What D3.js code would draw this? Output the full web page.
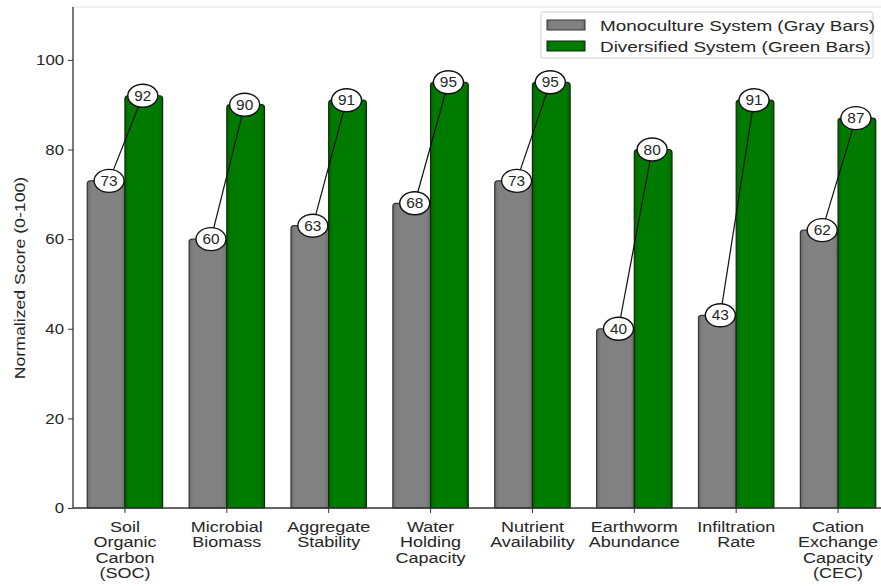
<!DOCTYPE html>
<html>
<head>
<meta charset="utf-8">
<script src="https://cdn.jsdelivr.net/npm/d3@7"></script>
<style>
  html, body { margin: 0; padding: 0; background: #fff; }
  svg { display: block; font-family: "Liberation Sans", Arial, Helvetica, sans-serif; }
</style>
</head>
<body>
<svg id="chart" width="881" height="588"></svg>
<script>
// Soil health indicators, normalized 0-100
const categories = [
  ["Soil", "Organic", "Carbon", "(SOC)"],
  ["Microbial", "Biomass"],
  ["Aggregate", "Stability"],
  ["Water", "Holding", "Capacity"],
  ["Nutrient", "Availability"],
  ["Earthworm", "Abundance"],
  ["Infiltration", "Rate"],
  ["Cation", "Exchange", "Capacity", "(CEC)"]
];
const monoculture = [73, 60, 63, 68, 73, 40, 43, 62];
const diversified = [92, 90, 91, 95, 95, 80, 91, 87];
const yTicks = [0, 20, 40, 60, 80, 100];
const seriesNames = ["Monoculture System (Gray Bars)", "Diversified System (Green Bars)"];

const svg = d3.select("#chart");
const mLeft = 73, mBottom = 508, mTop = 7, mRight = 889;
const ink = "#262626";

const x = d3.scaleBand()
  .domain(d3.range(categories.length))
  .range([mLeft + 1, mRight])
  .paddingInner(0.26)
  .paddingOuter(0.13);
const sub = d3.scaleBand().domain([0, 1]).range([0, x.bandwidth()]);
const y = d3.scaleLinear().domain([0, 111.8]).range([mBottom, mTop]);

// Horizontal shading to give the bars a rounded, cylindrical look
const defs = svg.append("defs");
function cyl(id, edge, mid) {
  const g = defs.append("linearGradient").attr("id", id).attr("x1", 0).attr("x2", 1).attr("y1", 0).attr("y2", 0);
  g.append("stop").attr("offset", "0%").attr("stop-color", edge);
  g.append("stop").attr("offset", "12%").attr("stop-color", mid);
  g.append("stop").attr("offset", "88%").attr("stop-color", mid);
  g.append("stop").attr("offset", "100%").attr("stop-color", edge);
}
cyl("gGray", "#6e6e6e", "#818181");
cyl("gGreen", "#006600", "#007b00");

// Frame line along the top of the plot
svg.append("line").attr("x1", mLeft).attr("x2", 881).attr("y1", mTop).attr("y2", mTop)
  .attr("stroke", "#e2e2e2").attr("stroke-width", 1);

// Y axis
const yAxis = svg.append("g").attr("transform", `translate(${mLeft},0)`)
  .call(d3.axisLeft(y).tickValues(yTicks).tickSize(5).tickPadding(3));
yAxis.select(".domain").attr("d", `M0,${y(0)}V${mTop}`).attr("stroke", "#333").attr("stroke-width", 1.3);
yAxis.selectAll(".tick line").attr("stroke", "#333");
yAxis.selectAll(".tick text").attr("font-size", 15).attr("fill", ink)
  .attr("transform", "scale(1.12,1)");

svg.append("text")
  .attr("transform", `translate(20,${278}) rotate(-90) scale(1.18,1)`)
  .attr("text-anchor", "middle").attr("dy", "0.35em")
  .attr("font-size", 15).attr("fill", ink)
  .text("Normalized Score (0-100)");

// Bars with softly rounded tops
function barPath(x0, w, yTop) {
  const r = 3;
  return `M${x0},${mBottom}V${yTop + r}Q${x0},${yTop} ${x0 + r},${yTop}H${x0 + w - r}Q${x0 + w},${yTop} ${x0 + w},${yTop + r}V${mBottom}Z`;
}
const groups = svg.append("g").selectAll("g").data(categories).join("g")
  .attr("transform", (d, i) => `translate(${x(i)},0)`);

groups.append("path")
  .attr("d", (d, i) => barPath(sub(0), sub.bandwidth(), y(monoculture[i])))
  .attr("fill", "url(#gGray)").attr("stroke", "#333").attr("stroke-width", 1.2);
groups.append("path")
  .attr("d", (d, i) => barPath(sub(1), sub.bandwidth(), y(diversified[i])))
  .attr("fill", "url(#gGreen)").attr("stroke", "#0d2a0d").attr("stroke-width", 1.2);

// X axis
svg.append("line").attr("x1", mLeft).attr("x2", 881).attr("y1", mBottom).attr("y2", mBottom)
  .attr("stroke", "#333").attr("stroke-width", 1.3);
groups.append("line")
  .attr("x1", x.bandwidth() / 2).attr("x2", x.bandwidth() / 2)
  .attr("y1", mBottom).attr("y2", mBottom + 5).attr("stroke", "#333");
groups.append("text")
  .attr("transform", `translate(${x.bandwidth() / 2},0) scale(1.2,1)`)
  .attr("text-anchor", "middle").attr("font-size", 15).attr("fill", ink)
  .selectAll("tspan").data(d => d).join("tspan")
  .attr("x", 0)
  .attr("y", (d, j) => mBottom + 24 + j * 15.5)
  .text(d => d);

// Connector between the paired value labels
const cx0 = sub(0) + sub.bandwidth() / 2 + 3;
const cx1 = sub(1) + sub.bandwidth() / 2 - 1;
groups.append("line")
  .attr("x1", cx0).attr("y1", (d, i) => y(monoculture[i]))
  .attr("x2", cx1).attr("y2", (d, i) => y(diversified[i]))
  .attr("stroke", "#111").attr("stroke-width", 1.2);

function valueLabel(cx, values) {
  const g = groups.append("g").attr("transform", (d, i) => `translate(${cx},${y(values[i])})`);
  g.append("ellipse").attr("rx", 15).attr("ry", 11.5)
    .attr("fill", "#fff").attr("stroke", "#111").attr("stroke-width", 1.4);
  g.append("text").attr("text-anchor", "middle").attr("dy", "0.36em")
    .attr("transform", "scale(1.1,1)")
    .attr("font-size", 14).attr("fill", ink)
    .text((d, i) => values[i]);
}
valueLabel(cx0, monoculture);
valueLabel(cx1, diversified);

// Legend
const lg = svg.append("g").attr("transform", "translate(541,12)");
lg.append("rect").attr("width", 332).attr("height", 46).attr("rx", 2)
  .attr("fill", "#fff").attr("stroke", "#cfcfcf");
const fills = ["url(#gGray)", "url(#gGreen)"];
const strokes = ["#333", "#0d2a0d"];
seriesNames.forEach((name, k) => {
  lg.append("rect").attr("x", 6).attr("y", 8 + k * 21).attr("width", 38).attr("height", 10)
    .attr("fill", fills[k]).attr("stroke", strokes[k]).attr("stroke-width", 1);
  lg.append("text")
    .attr("transform", `translate(59,${18.7 + k * 21}) scale(1.26,1)`)
    .attr("font-size", 15).attr("fill", ink).text(name);
});
</script>
</body>
</html>
